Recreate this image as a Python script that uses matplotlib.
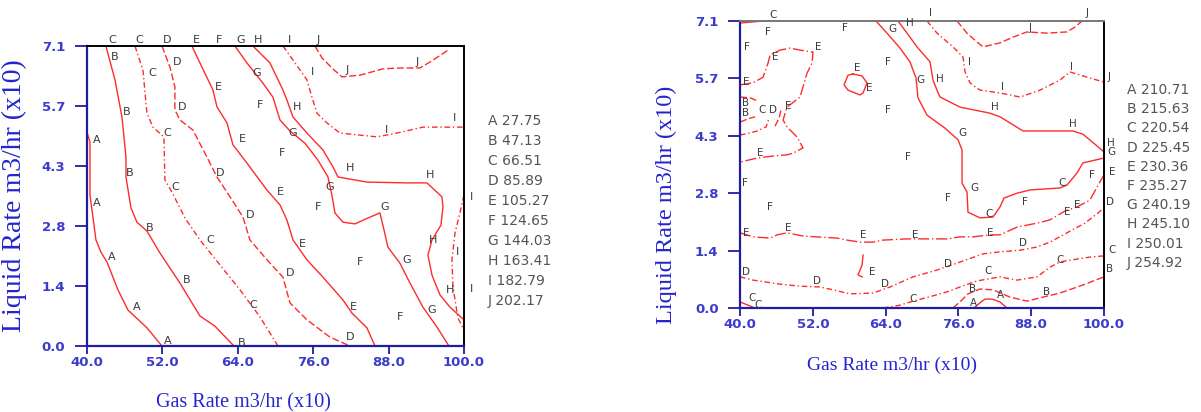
import matplotlib.pyplot as plt

plt.rcParams['font.family'] = ['DejaVu Sans']

# axis ticks (same for both panels)
gas_ticks = [40.0, 52.0, 64.0, 76.0, 88.0, 100.0]
gas_ticklabels = ['40.0', '52.0', '64.0', '76.0', '88.0', '100.0']
liq_ticks = [0.0, 1.42, 2.84, 4.26, 5.68, 7.1]
liq_ticklabels = ['0.0', '1.4', '2.8', '4.3', '5.7', '7.1']

levels = ['A', 'B', 'C', 'D', 'E', 'F', 'G', 'H', 'I', 'J']
left_values = [27.75, 47.13, 66.51, 85.89, 105.27, 124.65, 144.03, 163.41, 182.79, 202.17]
right_values = [210.71, 215.63, 220.54, 225.45, 230.36, 235.27, 240.19, 245.10, 250.01, 254.92]

# ---- left panel contour lines (gas, liquid) ----
lA_gas = [40.0, 40.48, 40.48, 40.8, 41.43, 42.23, 43.18, 44.93, 46.53, 49.55, 51.94]
lA_liq = [5.06, 4.83, 3.57, 3.22, 2.51, 2.22, 1.99, 1.33, 0.85, 0.43, 0.0]
lB_gas = [43.02, 44.46, 45.57, 46.21, 46.21, 47.0, 47.96, 49.55, 51.62, 54.8, 57.98, 60.37, 63.39]
lB_liq = [7.1, 6.30, 5.42, 4.47, 4.0, 3.27, 2.93, 2.72, 2.20, 1.49, 0.71, 0.47, 0.0]
lC_gas = [47.64, 48.91, 49.55, 50.5, 52.25, 52.41, 53.53, 55.6, 57.98, 61.17, 64.35, 67.53, 70.4]
lC_liq = [7.1, 6.53, 5.51, 5.18, 4.95, 3.93, 3.64, 3.03, 2.51, 1.92, 1.33, 0.69, 0.0]
lD_gas = [51.94, 53.21, 54.0, 54.0, 54.8, 56.87, 59.1, 60.69, 63.08, 64.83, 65.94, 68.65, 71.19,
          72.31, 75.01, 78.67, 81.86]
lD_liq = [7.1, 6.60, 6.13, 5.59, 5.35, 5.11, 4.47, 4.0, 3.46, 3.05, 2.51, 2.04, 1.63, 1.02, 0.62,
          0.21, 0.0]
lE_gas = [56.71, 57.98, 60.05, 60.69, 62.28, 63.24, 65.46, 68.65, 70.72, 71.83, 72.79, 75.01, 77.56,
          80.74, 82.17, 84.56, 85.84]
lE_liq = [7.1, 6.70, 6.06, 5.66, 5.28, 4.76, 4.33, 3.69, 3.34, 2.98, 2.51, 2.04, 1.63, 1.09, 0.78,
          0.43, 0.0]
lG_gas = [63.55, 65.46, 68.01, 69.6, 70.72, 72.31, 74.69, 76.76, 78.36, 78.99, 79.47, 80.74, 82.65,
          84.72, 86.63, 87.27, 87.9, 89.81, 91.41, 93.47, 95.7, 97.61]
lG_liq = [7.1, 6.70, 6.22, 5.89, 5.35, 5.09, 4.80, 4.40, 4.0, 3.57, 3.15, 2.93, 2.89, 3.03, 3.15,
          2.75, 2.34, 1.96, 1.49, 0.92, 0.45, 0.0]
lH_gas = [66.42, 69.12, 71.19, 71.83, 72.79, 75.01, 77.56, 79.15, 79.95, 84.56, 90.93, 94.11, 96.5,
          96.66, 96.34, 94.91, 94.27, 94.91, 96.18, 97.77, 100.0]
lH_liq = [7.1, 6.70, 6.06, 5.82, 5.42, 5.04, 4.64, 4.24, 4.0, 3.88, 3.86, 3.86, 3.53, 3.29, 2.86,
          2.51, 2.15, 1.68, 1.21, 0.92, 0.62]
lI1_gas = [71.19, 72.79, 75.01, 75.81, 76.61, 78.2, 80.26, 86.15, 89.33, 93.47, 100.0]
lI1_liq = [7.1, 6.77, 6.30, 5.89, 5.51, 5.28, 5.04, 4.95, 5.04, 5.18, 5.18]
lI2_gas = [100.0, 99.36, 98.57, 98.09, 98.25, 99.05, 100.0]
lI2_liq = [3.57, 3.15, 2.67, 2.04, 1.40, 0.66, 0.38]
lJ_gas = [76.29, 77.4, 78.99, 80.58, 83.45, 87.11, 89.81, 93.0, 94.91, 97.45]
lJ_liq = [7.1, 6.82, 6.58, 6.37, 6.41, 6.56, 6.58, 6.58, 6.75, 7.0]

# left panel line labels
l_lbl_txt = list('AAAAA' 'BBBBBB' 'CCCCC' 'DDDDDD' 'EEEEE' 'FFFFF' 'GGGGGG' 'HHHHH' 'IIIIII' 'JJ'
                 'CCDEFGHIJ')
l_lbl_gas = [41.59, 41.59, 43.98, 47.96, 52.89,
             44.46, 46.37, 46.84, 50.03, 55.92, 64.67,
             50.35, 52.73, 54.0, 59.58, 66.42,
             54.32, 55.12, 61.17, 65.94, 72.31, 81.86,
             60.85, 64.67, 70.72, 74.22, 82.33,
             67.53, 71.03, 76.76, 83.45, 89.81,
             67.06, 72.79, 78.67, 87.43, 90.93, 94.91,
             73.42, 81.86, 94.59, 95.07, 97.77,
             75.97, 87.75, 98.57, 99.05, 101.27, 101.27,
             81.38, 92.52,
             43.98, 48.28, 52.73, 57.35, 61.0, 64.51, 67.21, 72.31, 76.76]
l_lbl_liq = [4.88, 3.38, 2.11, 0.92, 0.12,
             6.84, 5.54, 4.09, 2.79, 1.56, 0.07,
             6.46, 5.04, 3.76, 2.51, 0.97,
             6.72, 5.66, 4.09, 3.10, 1.73, 0.21,
             6.13, 4.90, 3.64, 2.41, 0.92,
             5.70, 4.57, 3.29, 1.99, 0.69,
             6.46, 5.04, 3.76, 3.29, 2.04, 0.85,
             5.66, 4.21, 4.05, 2.51, 1.33,
             6.48, 5.11, 5.40, 2.22, 3.53, 1.35,
             6.53, 6.72,
             7.24, 7.24, 7.24, 7.24, 7.24, 7.24, 7.24, 7.24, 7.24]

# ---- right panel contour lines ----
rA_gas = [78.57, 79.73, 80.39, 81.54, 82.86, 84.01]
rA_liq = [0.0, 0.15, 0.22, 0.22, 0.15, 0.0]
rB_gas = [75.11, 76.60, 77.58, 79.56, 81.71, 84.51, 87.31, 89.95, 92.75, 96.54, 100.0]
rB_liq = [0.0, 0.20, 0.35, 0.47, 0.45, 0.27, 0.17, 0.27, 0.37, 0.57, 0.77]
rB2_gas = [40.0, 41.65, 42.97]
rB2_liq = [5.22, 5.20, 5.12]
rB3_gas = [40.0, 41.32, 42.47]
rB3_liq = [4.60, 4.68, 4.73]
rC_gas = [63.57, 66.37, 68.52, 71.81, 74.12, 76.26, 79.07, 82.86, 85.66, 88.96, 91.10, 92.75, 95.55,
          97.69, 100.0]
rC_liq = [0.0, 0.07, 0.17, 0.30, 0.40, 0.52, 0.67, 0.77, 0.69, 0.77, 1.01, 1.14, 1.21, 1.26, 1.29]
rC2_gas = [40.0, 41.32, 42.47]
rC2_liq = [0.15, 0.07, 0.0]
rC3_gas = [40.0, 43.79]
rC3_liq = [7.05, 7.1]
rC4_gas = [40.0, 41.65, 42.80, 44.29, 44.78]
rC4_liq = [4.28, 4.33, 4.38, 4.48, 4.70]
rD_gas = [40.0, 42.14, 44.45, 46.59, 49.89, 53.19, 55.33, 58.13, 61.92, 64.73, 68.52, 72.47, 75.77,
          80.06, 82.86, 86.16, 88.96, 91.10, 93.90, 96.87, 98.85, 100.0]
rD_liq = [0.77, 0.69, 0.64, 0.59, 0.54, 0.52, 0.45, 0.35, 0.37, 0.52, 0.77, 0.94, 1.11, 1.34, 1.39,
          1.43, 1.51, 1.63, 1.86, 2.10, 2.33, 2.47]
rD2_gas = [45.77, 46.43, 46.76]
rD2_liq = [4.50, 4.70, 4.90]
rE_gas = [40.0, 42.14, 44.95, 46.10, 47.75, 50.38, 55.99, 57.64, 59.78, 61.92, 63.57, 67.53, 70.83,
          74.12, 76.26, 78.41, 81.21, 82.86, 85.66, 88.96, 91.10, 93.57, 95.55, 97.69, 98.85, 100.0]
rE_liq = [1.86, 1.76, 1.73, 1.81, 1.86, 1.78, 1.73, 1.68, 1.63, 1.63, 1.68, 1.71, 1.71, 1.71, 1.76,
          1.76, 1.81, 1.81, 2.0, 2.10, 2.18, 2.40, 2.50, 2.67, 2.99, 3.29]
rE2_gas = [40.0, 42.14, 43.79, 44.62, 44.95, 46.59, 48.24, 49.89, 52.03, 51.87, 51.04, 50.38, 49.89,
           47.75, 47.09, 47.75, 49.40, 50.38, 48.74, 47.75, 45.44, 42.80, 40.0]
rE2_liq = [5.52, 5.57, 5.71, 6.06, 6.26, 6.38, 6.43, 6.38, 6.33, 6.06, 5.81, 5.47, 5.22, 4.97, 4.65,
           4.48, 4.23, 3.96, 3.83, 3.79, 3.76, 3.71, 3.61]
rE3_gas = [58.63, 57.80, 57.14, 57.80, 59.78, 60.28, 60.94, 60.11, 58.63]
rE3_liq = [5.79, 5.76, 5.52, 5.39, 5.27, 5.32, 5.57, 5.74, 5.79]
rE4_gas = [60.28, 60.11, 59.45, 60.11]
rE4_liq = [1.31, 1.06, 0.82, 0.77]
rG_gas = [62.42, 64.23, 66.37, 68.02, 69.01, 69.34, 70.83, 73.79, 75.94, 76.60, 76.60, 77.42, 77.58,
          79.56, 81.71, 82.86, 83.52, 85.66, 87.80, 92.75, 93.90, 95.55, 96.54, 100.0]
rG_liq = [7.1, 6.80, 6.43, 6.09, 5.69, 5.20, 4.77, 4.45, 4.16, 3.91, 3.09, 2.87, 2.37, 2.23, 2.25,
          2.50, 2.72, 2.84, 2.92, 2.97, 3.04, 3.34, 3.59, 3.71]
rH_gas = [66.04, 67.53, 69.18, 71.32, 71.81, 72.47, 72.97, 76.26, 81.21, 82.86, 86.65, 94.89, 96.54,
          98.85, 100.0]
rH_liq = [7.1, 6.80, 6.46, 6.09, 5.64, 5.39, 5.22, 4.97, 4.82, 4.73, 4.38, 4.38, 4.30, 4.01, 3.86]
rI_gas = [70.83, 72.47, 75.11, 76.76, 77.09, 77.91, 79.56, 82.86, 86.16, 89.45, 92.75, 94.40, 97.20,
          100.0]
rI_liq = [7.1, 6.80, 6.46, 6.21, 5.84, 5.57, 5.39, 5.32, 5.22, 5.39, 5.64, 5.84, 5.71, 5.59]
rJ_gas = [75.77, 77.42, 79.07, 80.06, 82.86, 85.0, 87.31, 90.61, 93.90, 95.22, 96.38]
rJ_liq = [7.1, 6.80, 6.58, 6.46, 6.56, 6.70, 6.83, 6.80, 6.83, 6.95, 7.1]

# right panel line labels
r_lbl_txt = list('CFFFFFFFFFFF' 'EEEEEEEEEEEEEEEE' 'BBCD' 'GHIJJ' 'GHHHHG' 'GGCC' 'IIIJ'
                 'DDDDDD' 'CCCCCC' 'BBB' 'AA')
r_lbl_gas = [45.44, 44.62, 41.15, 57.31, 64.40, 64.40, 67.69, 40.82, 44.95, 74.29, 86.98, 98.02,
             45.77, 52.86, 40.99, 47.91, 43.30, 59.29, 61.26, 40.99, 47.91, 60.28, 68.85, 81.21,
             93.90, 95.55, 61.76, 101.32,
             40.99, 40.99, 43.63, 45.44,
             65.06, 68.02, 71.32, 97.20, 87.80,
             69.67, 72.97, 82.03, 94.89, 101.16, 101.16,
             76.60, 78.57, 81.05, 93.08,
             77.91, 83.35, 94.73, 100.83,
             40.99, 52.69, 63.90, 74.29, 86.65, 100.99,
             41.98, 42.97, 68.52, 80.88, 92.75, 101.32,
             78.41, 90.61, 100.99,
             78.41, 82.86]
r_lbl_liq = [7.25, 6.83, 6.46, 6.93, 6.09, 4.90, 3.74, 3.09, 2.50, 2.72, 2.62, 3.29,
             6.21, 6.46, 5.59, 5.0, 3.83, 5.94, 5.44, 1.86, 1.98, 1.81, 1.81, 1.86,
             2.37, 2.55, 0.89, 3.36,
             5.07, 4.82, 4.90, 4.90,
             6.90, 7.05, 7.30, 7.30, 6.93,
             5.64, 5.67, 4.97, 4.55, 4.08, 3.86,
             4.33, 2.97, 2.33, 3.09,
             6.09, 5.47, 5.96, 5.71,
             0.89, 0.67, 0.59, 1.09, 1.61, 2.62,
             0.25, 0.07, 0.22, 0.92, 1.19, 1.43,
             0.47, 0.40, 0.96,
             0.12, 0.32]

red = '#ff2b2b'
blue = '#1e1e9e'
dashdot = (0, (4, 2, 1, 2))
dashed = (0, (5, 2))

left_lines = [(lA_gas, lA_liq, '-'), (lB_gas, lB_liq, '-'), (lC_gas, lC_liq, dashdot),
              (lD_gas, lD_liq, dashed), (lE_gas, lE_liq, '-'), (lG_gas, lG_liq, '-'),
              (lH_gas, lH_liq, '-'), (lI1_gas, lI1_liq, dashdot), (lI2_gas, lI2_liq, dashdot),
              (lJ_gas, lJ_liq, dashed)]
right_lines = [(rA_gas, rA_liq, '-'), (rB_gas, rB_liq, dashed), (rB2_gas, rB2_liq, dashed),
               (rB3_gas, rB3_liq, dashed), (rC_gas, rC_liq, dashdot), (rC2_gas, rC2_liq, '-'),
               (rC3_gas, rC3_liq, '-'), (rC4_gas, rC4_liq, dashdot), (rD_gas, rD_liq, dashdot),
               (rD2_gas, rD2_liq, dashed), (rE_gas, rE_liq, (0, (8, 2, 1, 2))),
               (rE2_gas, rE2_liq, (0, (8, 2, 1, 2))), (rE3_gas, rE3_liq, '-'),
               (rE4_gas, rE4_liq, '-'), (rG_gas, rG_liq, '-'), (rH_gas, rH_liq, '-'),
               (rI_gas, rI_liq, dashdot), (rJ_gas, rJ_liq, dashed)]

tick_font = ['Liberation Sans Narrow', 'DejaVu Sans']


def draw_panel(ax, lines, lbl_txt, lbl_gas, lbl_liq, values, top_color, leg_y0, leg_dy, fs):
    for g, q, ls in lines:
        ax.plot(g, q, color=red, lw=1.0, ls=ls)
    for t, g, q in zip(lbl_txt, lbl_gas, lbl_liq):
        ax.text(g, q, t, fontsize=fs, color='#3a3a3a', ha='center', va='center', clip_on=False)
    for i, (lv, v) in enumerate(zip(levels, values)):
        ax.text(1.063, leg_y0 - i * leg_dy, f'{lv} {v:.2f}', transform=ax.transAxes,
                fontsize=10, color='#555555', va='center', ha='left')
    ax.set_xlim(40, 100)
    ax.set_ylim(0, 7.1)
    ax.set_xticks(gas_ticks)
    ax.set_xticklabels(gas_ticklabels)
    ax.set_yticks(liq_ticks)
    ax.set_yticklabels(liq_ticklabels)
    for s in ['left', 'bottom']:
        ax.spines[s].set_color(blue)
        ax.spines[s].set_linewidth(1.6)
    ax.spines['top'].set_color(top_color)
    ax.spines['right'].set_color('black')
    ax.spines['top'].set_linewidth(1.4)
    ax.spines['right'].set_linewidth(1.4)
    ax.tick_params(axis='y', direction='out', length=8.5, width=1.3, color=blue,
                   labelcolor='#3c3ccc', labelsize=9.5, pad=7)
    ax.tick_params(axis='x', direction='out', length=5.5, width=1.3, color=blue,
                   labelcolor='#3c3ccc', labelsize=9.5, pad=2)
    for lab in ax.get_xticklabels() + ax.get_yticklabels():
        lab.set_fontweight('bold')
        lab.set_family(tick_font)


fig = plt.figure(figsize=(12.01, 4.12), dpi=100)
ax1 = fig.add_axes([0.0724, 0.1602, 0.3139, 0.7281])
ax2 = fig.add_axes([0.6162, 0.2524, 0.3030, 0.6966])

draw_panel(ax1, left_lines, l_lbl_txt, l_lbl_gas, l_lbl_liq, left_values, 'black',
           0.75, 0.0667, 8)
draw_panel(ax2, right_lines, r_lbl_txt, r_lbl_gas, r_lbl_liq, right_values, '#777777',
           0.7596, 0.0669, 7.5)

serif = 'Liberation Serif'
ax1.set_ylabel('Liquid Rate m3/hr (x10)', family=serif, fontsize=20, color='#2424d0')
ax1.yaxis.set_label_coords(-0.159, 0.5)
ax1.set_xlabel('Gas Rate m3/hr (x10)', family=serif, fontsize=14.5, color='#2424d0')
ax1.xaxis.set_label_coords(0.414, -0.157)
ax2.set_ylabel('Liquid Rate m3/hr (x10)', family=serif, fontsize=17.5, color='#2424d0')
ax2.yaxis.set_label_coords(-0.173, 0.359)
ax2.set_xlabel('Gas Rate m3/hr (x10)', family=serif, fontsize=14, color='#2424d0')
ax2.xaxis.set_label_coords(0.418, -0.171)

fig.savefig('out.png', dpi=100, facecolor='white')
